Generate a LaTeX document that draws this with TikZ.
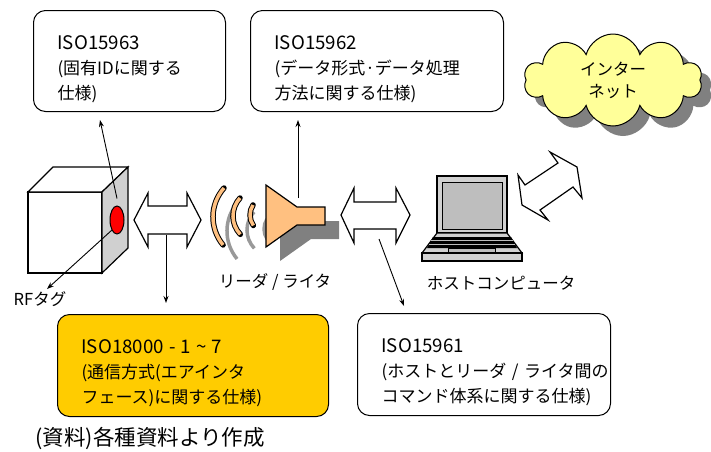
\documentclass[tikz,border=0pt]{standalone}
\usepackage{fontspec}
\setmainfont{Noto Sans CJK JP}
\usetikzlibrary{shapes.geometric,shapes.symbols,arrows.meta}

\definecolor{hornorange}{RGB}{255,192,128}
\definecolor{specgold}{RGB}{255,204,0}
\definecolor{cloudyellow}{RGB}{255,255,153}
\definecolor{shadowgray}{RGB}{128,128,128}
\definecolor{sidegray}{RGB}{208,208,208}
\definecolor{screengray}{RGB}{190,190,190}

% standard numbers are set a little larger than the kana
\newcommand{\stdno}[1]{{\fontsize{18.7}{25}\selectfont #1}}

\tikzset{
	specbox/.style={draw, line width=1pt, rounded corners=12pt, anchor=north west,
		inner xsep=24pt, align=left, text height=30pt, font=\fontsize{17}{25}\selectfont},
	pointer/.style={-{Stealth[length=7pt,width=5pt]}, line width=0.9pt},
	blockarrow/.style={draw, fill=white, line width=1.2pt, line join=miter},
	devlabel/.style={font=\fontsize{16.5}{20}\selectfont},
}

\begin{document}
\begin{tikzpicture}[x=1pt, y=-1pt]

		\useasboundingbox (0,0) rectangle (711,451);

		% Standard boxes
		\node[specbox, minimum width=192, minimum height=101, text width=144] (isoid) at (33,10)
			{\stdno{ISO15963}\\(固有IDに関する\\仕様)};
		\node[specbox, minimum width=253, minimum height=101, text width=205] (isodata) at (250,10)
			{\stdno{ISO15962}\\(データ形式·データ処理\\方法に関する仕様)};
		\node[specbox, fill=specgold, minimum width=271, minimum height=102, text width=223] (isoair) at (57,314)
			{\stdno{ISO18000\;-\;1\;\textasciitilde\;7}\\(通信方式(エアインタ\\フェース)に関する仕様)};
		\node[specbox, minimum width=253, minimum height=102, text width=205] (isocmd) at (357,313)
			{\stdno{ISO15961}\\(ホストとリーダ~/~ライタ間の\\コマンド体系に関する仕様)};

		% Internet cloud
		\node[cloud, cloud puffs=10, aspect=1.9, fill=shadowgray, minimum width=178, minimum height=92] at (623,90) {};
		\node[cloud, cloud puffs=10, aspect=1.9, draw, line width=1pt, fill=cloudyellow, minimum width=178, minimum height=92,
			align=center, font=\fontsize{16.5}{22}\selectfont] (netcloud) at (613,80) {インター\\ネット};

		% RF tag
		\draw[line width=1.2pt, fill=white] (28,192) rectangle (102,273);
		\draw[line width=1.2pt, fill=white] (28,192) -- (53,167) -- (128,167) -- (102,192) -- cycle;
		\draw[line width=1.2pt, fill=sidegray] (102,192) -- (128,167) -- (128,248) -- (102,273) -- cycle;
		\node[ellipse, draw, line width=1pt, fill=red, minimum width=14, minimum height=28, inner sep=0pt] (tagchip) at (117,220) {};
		\node[devlabel] (taglabel) at (40,299) {RFタグ};

		% Radio waves: shadow first, then outlined orange arcs
		\foreach \sx/\sy/\r/\a/\b in {224/188/43.7/221.6/140.3, 240/198/26.6/222.6/136.4, 253/205/18.2/213.3/144.8}{
			\draw[black!40, line width=3.5pt] (\sx+14,\sy+14) arc[start angle=\a, end angle=\b, radius=\r];
			\draw[black, line width=5.5pt, line cap=round] (\sx,\sy) arc[start angle=\a, end angle=\b, radius=\r];
			\draw[hornorange, line width=3.5pt] (\sx,\sy) arc[start angle=\a, end angle=\b, radius=\r];
		}

		% Reader / writer
		\fill[shadowgray] (280,199) -- (311,221) -- (339,221) -- (339,239) -- (311,239) -- (280,261) -- cycle;
		\draw[line width=1.2pt, fill=hornorange] (266,185) -- (297,207) -- (325,207) -- (325,225) -- (297,225) -- (266,247) -- cycle;
		\node[devlabel] (readerlabel) at (275,282) {リーダ~/~ライタ};

		% Host computer
		\draw[line width=1.2pt, fill=screengray!70] (437,176) rectangle (507,233);
		\draw[line width=1pt, fill=screengray] (442,182) rectangle (502,229);
		\draw[line width=1.2pt, fill=screengray!70] (437,233) -- (507,233) -- (522,253) -- (422,253) -- cycle;
		\draw[line width=1.2pt, fill=screengray!70] (422,253) rectangle (522,261);
		\fill[black] (433,237) -- (511,237) -- (517,248) -- (427,248) -- cycle;
		\draw[screengray, line width=0.8pt] (431,240.5) -- (513,240.5) (429,244.5) -- (515,244.5);
		\draw[line width=1pt, fill=screengray] (448,248) rectangle (495,252);
		\node[devlabel] (hostlabel) at (501,283) {ホストコンピュータ};

		% Double arrows
		\draw[blockarrow] (134,220) -- (148,193) -- (148,206) -- (187,206) -- (187,193) -- (201,220)
			-- (187,247) -- (187,234) -- (148,234) -- (148,247) -- cycle;
		\draw[blockarrow] (341,215) -- (354,188) -- (354,202) -- (396,202) -- (396,188) -- (410,215)
			-- (396,243) -- (396,229) -- (354,229) -- (354,243) -- cycle;
		\draw[blockarrow] (518,175) -- (525,185) -- (558,163) -- (550,152) -- (577,167) -- (582,198)
			-- (573,187) -- (540,210) -- (548,220) -- (522,205) -- cycle;

		% Pointers
		\coordinate (idtip) at (100,120);
		\coordinate (datatip) at (298,120);
		\coordinate (airfrom) at (166,235);
		\coordinate (airtip) at (166,303);
		\coordinate (cmdfrom) at (379,239);
		\coordinate (cmdtip) at (404,306);
		\coordinate (hornfrom) at (298,198);
		\coordinate (tagtip) at (47,289);

		\draw[pointer] (tagchip.north) ++(0,-7) -- (idtip);
		\draw[pointer] (tagchip.south west) -- (tagtip);
		\draw[pointer] (hornfrom) -- (datatip);
		\draw[pointer] (airfrom) -- (airtip);
		\draw[pointer] (cmdfrom) -- (cmdtip);

		% Source note
		\node[anchor=west, font=\fontsize{21.5}{26}\selectfont] (source) at (32,438) {(資料)各種資料より作成};

	\end{tikzpicture}
\end{document}
